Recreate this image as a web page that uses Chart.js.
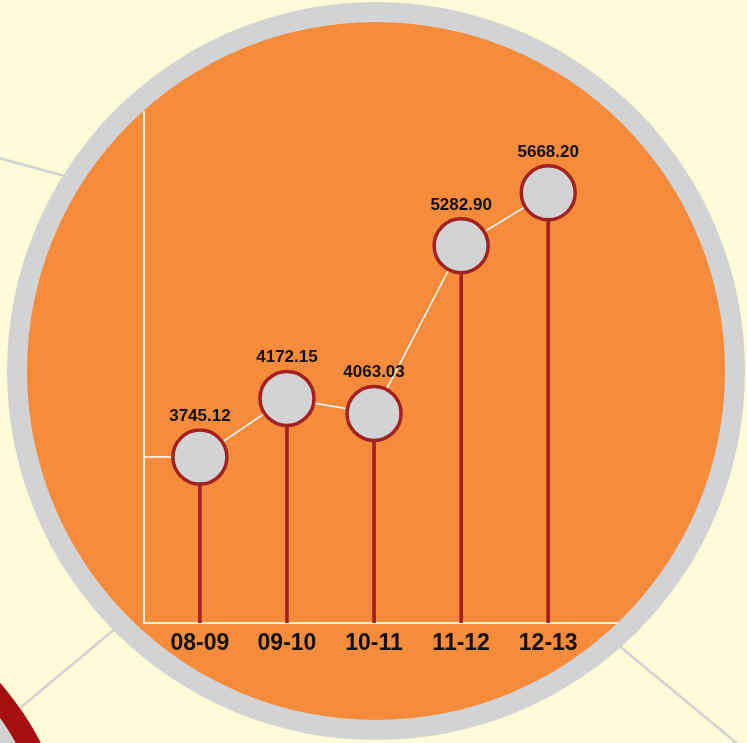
<!DOCTYPE html>
<html>
<head>
<meta charset="utf-8">
<title>Annual figures 08-09 to 12-13</title>
<script src="https://cdn.jsdelivr.net/npm/chart.js@4/dist/chart.umd.min.js"></script>
<style>
  html, body { margin: 0; padding: 0; background: #fffbd7; }
  #wrap { width: 747px; height: 743px; }
</style>
</head>
<body>
<div id="wrap"><canvas id="chart" width="747" height="743"></canvas></div>
<script>
// Financial years and their values
const YEARS = ['08-09', '09-10', '10-11', '11-12', '12-13'];
const VALUES = [3745.12, 4172.15, 4063.03, 5282.90, 5668.20];
const VALUE_LABELS = ['3745.12', '4172.15', '4063.03', '5282.90', '5668.20'];

// Axis ranges
const Y_MIN = 2538;
const Y_MAX = 6256;
const X_MIN = -0.642;
const X_MAX = 4.79;

const COLORS = {
  background: '#fffbd7',
  ring: '#d1d3d4',
  disc: '#f68b3c',
  connector: '#d1d3d4',
  redRing: '#a60f0f',
  stem: '#a3211f',
  markerFill: '#d1d3d4',
  trend: '#ffffff',
  axis: '#fff1de',
  text: '#111111'
};

const FONT = '"Liberation Sans", Arial, Helvetica, sans-serif';

// Backdrop: cream page, connector strokes, neighbouring red ring and the orange disc
const backdrop = {
  id: 'backdrop',
  beforeDraw(chart) {
    const ctx = chart.ctx;
    ctx.save();
    ctx.fillStyle = COLORS.background;
    ctx.fillRect(0, 0, chart.width, chart.height);

    ctx.strokeStyle = COLORS.connector;
    ctx.lineWidth = 2.5;
    ctx.lineCap = 'butt';
    const strokes = [
      [[-5, 157], [90, 183]],
      [[20, 708], [140, 608]],
      [[600, 630], [745, 750]]
    ];
    strokes.forEach(([a, b]) => {
      ctx.beginPath();
      ctx.moveTo(a[0], a[1]);
      ctx.lineTo(b[0], b[1]);
      ctx.stroke();
    });

    // neighbouring ring in the lower-left corner
    ctx.fillStyle = COLORS.redRing;
    ctx.beginPath();
    ctx.arc(-226, 880, 300, 0, Math.PI * 2);
    ctx.fill();
    ctx.fillStyle = COLORS.ring;
    ctx.beginPath();
    ctx.arc(-226, 880, 278, 0, Math.PI * 2);
    ctx.fill();

    // main disc with grey rim
    ctx.fillStyle = COLORS.ring;
    ctx.beginPath();
    ctx.arc(376, 371, 369, 0, Math.PI * 2);
    ctx.fill();
    ctx.fillStyle = COLORS.disc;
    ctx.beginPath();
    ctx.arc(376, 371, 349, 0, Math.PI * 2);
    ctx.fill();
    ctx.restore();
  }
};

// Lead-in segment from the y axis to the first point, plus value labels
const annotations = {
  id: 'annotations',
  beforeDatasetsDraw(chart) {
    const ctx = chart.ctx;
    const x = chart.scales.x, y = chart.scales.y;
    ctx.save();
    ctx.strokeStyle = COLORS.trend;
    ctx.lineWidth = 1.5;
    ctx.beginPath();
    ctx.moveTo(x.getPixelForValue(X_MIN), y.getPixelForValue(VALUES[0]));
    ctx.lineTo(x.getPixelForValue(0), y.getPixelForValue(VALUES[0]));
    ctx.stroke();
    ctx.restore();
  },
  afterDatasetsDraw(chart) {
    const ctx = chart.ctx;
    const meta = chart.getDatasetMeta(0);
    ctx.save();
    ctx.fillStyle = COLORS.text;
    ctx.font = 'bold 17px ' + FONT;
    ctx.textAlign = 'center';
    ctx.textBaseline = 'alphabetic';
    meta.data.forEach((pt, i) => {
      ctx.fillText(VALUE_LABELS[i], pt.x, pt.y - 36);
    });
    ctx.restore();
  }
};

const points = VALUES.map((v, i) => ({ x: i, y: v }));

new Chart(document.getElementById('chart'), {
  data: {
    datasets: [
      {
        type: 'line',
        label: 'markers',
        data: points,
        showLine: false,
        pointRadius: 27,
        pointBorderWidth: 3.5,
        pointBackgroundColor: COLORS.markerFill,
        pointBorderColor: COLORS.stem,
        clip: false,
        order: 1
      },
      {
        type: 'line',
        label: 'trend',
        data: points,
        borderColor: COLORS.trend,
        borderWidth: 1.5,
        pointRadius: 0,
        tension: 0,
        clip: false,
        order: 2
      },
      {
        type: 'bar',
        label: 'stems',
        data: VALUES.map((v, i) => ({ x: i, y: [Y_MIN, v] })),
        backgroundColor: COLORS.stem,
        barThickness: 3,
        borderWidth: 0,
        grouped: false,
        order: 3
      }
    ]
  },
  options: {
    responsive: false,
    animation: false,
    events: [],
    layout: { padding: { left: 144, right: 130, top: 112, bottom: 80 } },
    plugins: {
      legend: { display: false },
      tooltip: { enabled: false }
    },
    scales: {
      x: {
        type: 'linear',
        min: X_MIN,
        max: X_MAX,
        offset: false,
        grid: { display: false, offset: false },
        border: { display: true, color: COLORS.axis, width: 2 },
        afterBuildTicks(scale) {
          scale.ticks = YEARS.map((_, i) => ({ value: i }));
        },
        afterFit(scale) { scale.height = 40; },
        ticks: {
          autoSkip: false,
          maxRotation: 0,
          padding: -1,
          color: COLORS.text,
          font: { family: FONT, size: 23, weight: 'bold' },
          callback: (v) => YEARS[v]
        }
      },
      y: {
        type: 'linear',
        min: Y_MIN,
        max: Y_MAX,
        grid: { display: false },
        border: { display: true, color: COLORS.axis, width: 2 },
        ticks: { display: false },
        afterFit(scale) { scale.width = 0; }
      }
    }
  },
  plugins: [backdrop, annotations]
});
</script>
</body>
</html>
